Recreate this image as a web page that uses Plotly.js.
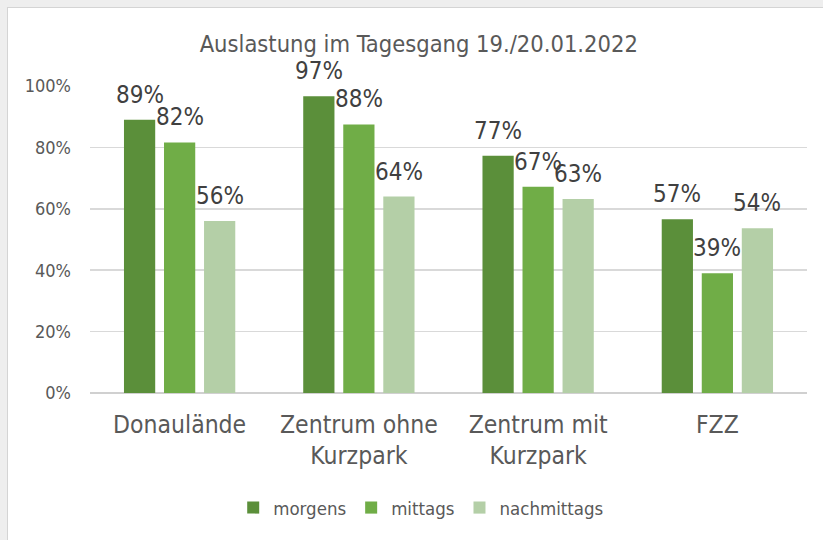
<!DOCTYPE html>
<html>
<head>
<meta charset="utf-8">
<script src="https://cdn.plot.ly/plotly-3.0.1.min.js"></script>
<style>
  html, body { margin: 0; padding: 0; background: #eeeeee; width: 823px; height: 540px; overflow: hidden; }
  #chart { position: absolute; left: 7px; top: 7px; width: 816px; height: 533px; background: #ffffff;
           border-left: 1px solid #d4d4d4; border-top: 1px solid #d4d4d4; box-sizing: border-box; }
</style>
</head>
<body>
<div id="chart"></div>
<script>
const categories = ["Donaulände", "Zentrum ohne<br>Kurzpark", "Zentrum mit<br>Kurzpark", "FZZ"];
const morgens = [0.89, 0.967, 0.773, 0.566];
const mittags = [0.816, 0.875, 0.672, 0.39];
const nachmittags = [0.56, 0.64, 0.632, 0.537];
const seriesNames = ["morgens", "mittags", "nachmittags"];
const seriesColors = ["#5b8f3a", "#70ad47", "#b4cfa7"];
const yTickVals = [0, 0.2, 0.4, 0.6, 0.8, 1.0];
const yTickText = ["0%", "20%", "40%", "60%", "80%", "100%"];

const FONT = '"DejaVu Sans Condensed", "Liberation Sans Narrow", sans-serif';
const BARGAP = 0.33, GROUPGAP = 0.22;
const allSeries = [morgens, mittags, nachmittags];

const data = allSeries.map((vals, s) => ({
  type: 'bar', name: seriesNames[s], x: categories, y: vals,
  marker: { color: seriesColors[s] },
  hoverinfo: 'none'
}));

// data labels, placed through the category axis (index + group offset) and the value axis
const slot = (1 - BARGAP) / allSeries.length;
const annotations = [];
allSeries.forEach((vals, s) => {
  vals.forEach((v, i) => {
    annotations.push({
      xref: 'x', yref: 'y', x: i + (s - (allSeries.length - 1) / 2) * slot, y: v,
      text: Math.round(v * 100) + '%', showarrow: false,
      xanchor: 'center', yanchor: 'bottom', yshift: 9,
      font: { family: FONT, size: 24, color: '#404040' }
    });
  });
});

const layout = {
  width: 815, height: 532,
  margin: { l: 82, r: 16, t: 78, b: 147, pad: 0 },
  paper_bgcolor: 'rgba(0,0,0,0)', plot_bgcolor: '#ffffff',
  font: { family: FONT, color: '#595959' },
  title: { text: 'Auslastung im Tagesgang 19./20.01.2022', font: { family: FONT, size: 23.5, color: '#595959' },
           x: 0.504, xref: 'container', xanchor: 'center', y: 0.933, yref: 'container', yanchor: 'middle' },
  barmode: 'group', bargap: BARGAP, bargroupgap: GROUPGAP,
  xaxis: { type: 'category', showgrid: false, showline: false, ticks: '',
           tickfont: { family: FONT, size: 24.5, color: '#595959' }, ticklabelstandoff: 14 },
  yaxis: { range: [0, 1.0], tickvals: yTickVals, ticktext: yTickText, showgrid: true, gridcolor: '#d9d9d9', gridwidth: 1.5,
           zeroline: true, zerolinecolor: '#d0d0d0', zerolinewidth: 2, showline: false, ticks: '',
           tickfont: { family: FONT, size: 18, color: '#595959' }, ticklabelstandoff: 18 },
  annotations: annotations,
  showlegend: true,
  legend: { orientation: 'h', xref: 'container', yref: 'container', x: 0.507, xanchor: 'center', y: 0.06, yanchor: 'middle',
            font: { family: FONT, size: 18.5, color: '#595959' }, itemwidth: 30, traceorder: 'normal' }
};

Plotly.newPlot('chart', data, layout, { displayModeBar: false, staticPlot: true });
</script>
</body>
</html>
